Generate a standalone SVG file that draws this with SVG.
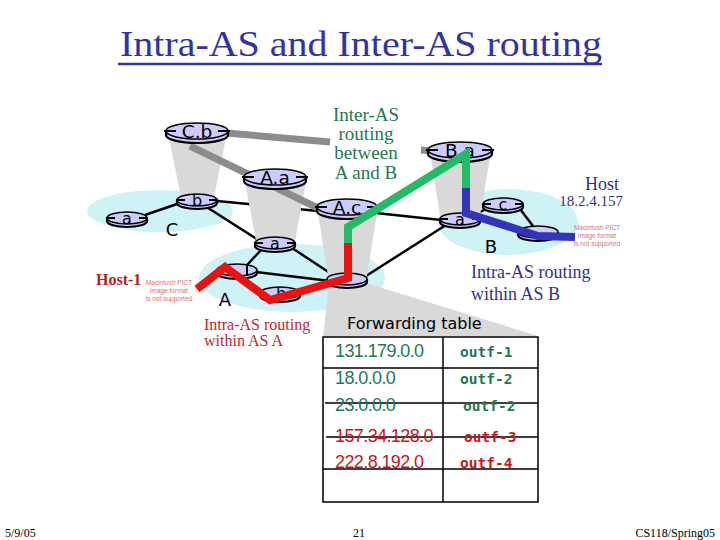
<svg xmlns="http://www.w3.org/2000/svg" width="720" height="540" viewBox="0 0 720 540">
<style>
.blob{fill:#cdf3f7;stroke:none}
.cone{fill:#d9d9d9;stroke:none}
.link{stroke:#000;stroke-width:2.5;fill:none}
.glink{stroke:#8c8c8c;stroke-width:7;fill:none}
.rb{fill:#ccccff;stroke:#000;stroke-width:2.2}
.rt{fill:#ccccff;stroke:#000;stroke-width:1.5}
.tick{stroke:#000;stroke-width:2}
.rl{font-family:"DejaVu Sans",sans-serif;fill:#000;text-anchor:middle}
.big{font-size:18.5px}
.sm{font-size:16px}
.path{fill:none;stroke-width:8;stroke-linejoin:miter}
.pict{font-family:"Liberation Sans",sans-serif;font-size:6.5px;fill:#e07070;text-anchor:middle}
.serif{font-family:"Liberation Serif",serif}
.ip{font-family:"Liberation Sans",sans-serif;font-size:18px;letter-spacing:-0.6px}
.if{font-family:"DejaVu Sans Mono",monospace;font-size:14.5px;font-weight:bold}
.grn{fill:#1d7a4e}
.red{fill:#cc1515}
</style>

<!-- title -->
<text x="120" y="56" class="serif" font-size="36" fill="#3232a8" textLength="482" lengthAdjust="spacingAndGlyphs">Intra-AS and Inter-AS routing</text>
<line x1="118" y1="64" x2="602" y2="64" stroke="#3232a8" stroke-width="2.5"/>

<!-- AS blobs -->
<g id="as-C"><ellipse class="blob" cx="160" cy="211" rx="73" ry="21"/><text x="172" y="236" class="rl" font-size="18">C</text></g>
<g id="as-A"><ellipse class="blob" cx="292" cy="278" rx="93" ry="34"/><text x="225" y="306" class="rl" font-size="18">A</text></g>
<g id="as-B"><ellipse class="blob" cx="508" cy="222" rx="70" ry="33"/><text x="491" y="253" class="rl" font-size="18">B</text></g>

<!-- connectors -->
<g id="connectors">
<line class="link" x1="145" y1="215" x2="180" y2="203"/>
<line class="link" x1="217" y1="201" x2="318" y2="211"/>
<line class="link" x1="205" y1="206" x2="260" y2="241"/>
<line class="link" x1="292" y1="248" x2="333" y2="275"/>
<line class="link" x1="262" y1="249" x2="247" y2="265"/>
<line class="link" x1="256" y1="272" x2="330" y2="281"/>
<line class="link" x1="376" y1="213" x2="441" y2="220"/>
<line class="link" x1="366" y1="276" x2="446" y2="225"/>
<line class="link" x1="476" y1="214" x2="488" y2="208"/>
<line class="link" x1="520" y1="209" x2="533" y2="226"/>
</g>

<!-- cones -->
<g id="cones">
<polygon class="cone" points="169,138 226,138 214,197 181,197"/>
<polygon class="cone" points="245,182 306,182 295,241 256,241"/>
<polygon class="cone" points="318,213 377,213 367,276 328,276"/>
<polygon class="cone" points="430,152 491,152 480,216 440,216"/>
<polygon class="cone" fill="#dedede" points="329,285 366,283 538,336 323,336"/>
</g>

<!-- inter-AS physical links -->
<g id="inter-links">
<line class="glink" x1="226" y1="133" x2="330" y2="142"/>
<line class="glink" x1="421" y1="150" x2="432" y2="151"/>
<line class="glink" x1="190" y1="146" x2="322" y2="210"/>
</g>

<!-- routers -->
<g id="router-Cb"><path class="rb" d="M166,131 v4 A31,8 0 0 0 228,135 v-4"/><ellipse class="rt" cx="197" cy="131" rx="31" ry="8"/><line class="tick" x1="164" y1="131" x2="176" y2="131"/><line class="tick" x1="218" y1="131" x2="230" y2="131"/><text class="rl big" x="197" y="138">C.b</text></g>
<g id="router-Aa"><path class="rb" d="M244,177 v4 A31,8 0 0 0 306,181 v-4"/><ellipse class="rt" cx="275" cy="177" rx="31" ry="8"/><line class="tick" x1="242" y1="177" x2="254" y2="177"/><line class="tick" x1="296" y1="177" x2="308" y2="177"/><text class="rl big" x="275" y="184">A.a</text></g>
<g id="router-Ac"><path class="rb" d="M317,207 v4 A30,8 0 0 0 377,211 v-4"/><ellipse class="rt" cx="347" cy="207" rx="30" ry="8"/><line class="tick" x1="315" y1="207" x2="327" y2="207"/><line class="tick" x1="367" y1="207" x2="379" y2="207"/><text class="rl big" x="347" y="214">A.c</text></g>
<g id="router-Ba"><path class="rb" d="M428,150 v4 A32,8 0 0 0 492,154 v-4"/><ellipse class="rt" cx="460" cy="150" rx="32" ry="8"/><line class="tick" x1="426" y1="150" x2="438" y2="150"/><line class="tick" x1="482" y1="150" x2="494" y2="150"/><text class="rl big" x="460" y="157">B.a</text></g>
<g id="router-C-b"><path class="rb" d="M177,200 v3 A20,6 0 0 0 217,203 v-3"/><ellipse class="rt" cx="197" cy="200" rx="20" ry="6"/><line class="tick" x1="176" y1="200" x2="185" y2="200"/><line class="tick" x1="209" y1="200" x2="218" y2="200"/><text class="rl sm" x="197" y="206">b</text></g>
<g id="router-C-a"><path class="rb" d="M107,218 v3 A20,6 0 0 0 147,221 v-3"/><ellipse class="rt" cx="127" cy="218" rx="20" ry="6"/><line class="tick" x1="106" y1="218" x2="115" y2="218"/><line class="tick" x1="139" y1="218" x2="148" y2="218"/><text class="rl sm" x="127" y="224">a</text></g>
<g id="router-A-a"><path class="rb" d="M255,243 v3 A20,6 0 0 0 295,246 v-3"/><ellipse class="rt" cx="275" cy="243" rx="20" ry="6"/><line class="tick" x1="254" y1="243" x2="263" y2="243"/><line class="tick" x1="287" y1="243" x2="296" y2="243"/><text class="rl sm" x="275" y="249">a</text></g>
<g id="router-A-left"><path class="rb" d="M217,270 v3 A20,6 0 0 0 257,273 v-3"/><ellipse class="rt" cx="237" cy="270" rx="20" ry="6"/><line class="tick" x1="247" y1="265" x2="247" y2="276"/></g>
<g id="router-A-bottom"><path class="rb" d="M260,293 v3 A20,6 0 0 0 300,296 v-3"/><ellipse class="rt" cx="280" cy="293" rx="20" ry="6"/><text class="rl sm" x="281" y="299">b</text></g>
<g id="router-A-right"><path class="rb" d="M327,279 v3 A20,6 0 0 0 367,282 v-3"/><ellipse class="rt" cx="347" cy="279" rx="20" ry="6"/></g>
<g id="router-B-a"><path class="rb" d="M440,219 v3 A20,6 0 0 0 480,222 v-3"/><ellipse class="rt" cx="460" cy="219" rx="20" ry="6"/><line class="tick" x1="439" y1="219" x2="448" y2="219"/><line class="tick" x1="472" y1="219" x2="481" y2="219"/><text class="rl sm" x="460" y="225">a</text></g>
<g id="router-B-c"><path class="rb" d="M483,204 v3 A20,6 0 0 0 523,207 v-3"/><ellipse class="rt" cx="503" cy="204" rx="20" ry="6"/><line class="tick" x1="482" y1="204" x2="491" y2="204"/><line class="tick" x1="515" y1="204" x2="524" y2="204"/><text class="rl sm" x="503" y="210">c</text></g>
<g id="router-B-d"><path class="rb" d="M518,232 v3 A20,6 0 0 0 558,235 v-3"/><ellipse class="rt" cx="538" cy="232" rx="20" ry="6"/></g>

<!-- routing paths -->
<g id="paths">
<polyline class="path" stroke="#ee1111" points="197,289 225,267 270,300 348,278 348,243"/>
<polyline class="path" stroke="#22bb66" points="348,243 348,227 466,154 466,188"/>
<polyline class="path" stroke="#3333bb" points="466,188 466,213 538,236 575,237"/>
</g>

<!-- labels -->
<g id="label-inter" class="serif" font-size="19" fill="#1d7a4e" text-anchor="middle">
<text x="366" y="121">Inter-AS</text>
<text x="366" y="140">routing</text>
<text x="366" y="159">between</text>
<text x="366" y="179">A and B</text>
</g>
<g id="host-B">
<text x="602" y="190" class="serif" font-size="18" fill="#333388" text-anchor="middle">Host</text>
<text x="591" y="206" class="serif" font-size="15" fill="#333388" text-anchor="middle">18.2.4.157</text>
<text class="pict" x="597" y="230">Macintosh PICT</text>
<text class="pict" x="597" y="238">image format</text>
<text class="pict" x="597" y="246">is not supported</text>
</g>
<g id="host-1">
<text x="96" y="285" class="serif" font-size="16" font-weight="bold" fill="#b22222">Host-1</text>
<text class="pict" x="169" y="285">Macintosh PICT</text>
<text class="pict" x="169" y="293">image format</text>
<text class="pict" x="169" y="301">is not supported</text>
</g>
<g id="label-intraB" class="serif" font-size="18" fill="#333388">
<text x="471" y="278">Intra-AS routing</text>
<text x="471" y="300">within AS B</text>
</g>
<g id="label-intraA" class="serif" font-size="16" fill="#c0282d">
<text x="204" y="330">Intra-AS routing</text>
<text x="204" y="346">within AS A</text>
</g>

<!-- forwarding table -->
<g id="forwarding-table">
<text x="347" y="329" font-family="DejaVu Sans,sans-serif" font-size="16" fill="#000">Forwarding table</text>
<rect x="323" y="337" width="215" height="165" fill="none" stroke="#000" stroke-width="1.5"/>
<line x1="443" y1="337" x2="443" y2="502" stroke="#000" stroke-width="1.5"/>
<line x1="323" y1="368" x2="538" y2="368" stroke="#000" stroke-width="1.5"/>
<line x1="325" y1="403" x2="538" y2="403" stroke="#000" stroke-width="1.5"/>
<line x1="326" y1="437" x2="538" y2="437" stroke="#000" stroke-width="1.5"/>
<line x1="323" y1="469" x2="538" y2="469" stroke="#000" stroke-width="1.5"/>
<text class="ip grn" x="335" y="357">131.179.0.0</text>
<text class="ip grn" x="335" y="384">18.0.0.0</text>
<text class="ip grn" x="335" y="411">23.0.0.0</text>
<text class="ip red" x="335" y="442">157.34.128.0</text>
<text class="ip red" x="335" y="468">222.8.192.0</text>
<text class="if grn" x="460" y="357">outf-1</text>
<text class="if grn" x="460" y="384">outf-2</text>
<text class="if grn" x="463" y="411">outf-2</text>
<text class="if red" x="464" y="442">outf-3</text>
<text class="if red" x="460" y="468">outf-4</text>
</g>

<!-- footer -->
<g id="footer" class="serif" font-size="12" fill="#000">
<text x="5" y="537">5/9/05</text>
<text x="359" y="537" text-anchor="middle">21</text>
<text x="715" y="537" text-anchor="end">CS118/Spring05</text>
</g>
</svg>
